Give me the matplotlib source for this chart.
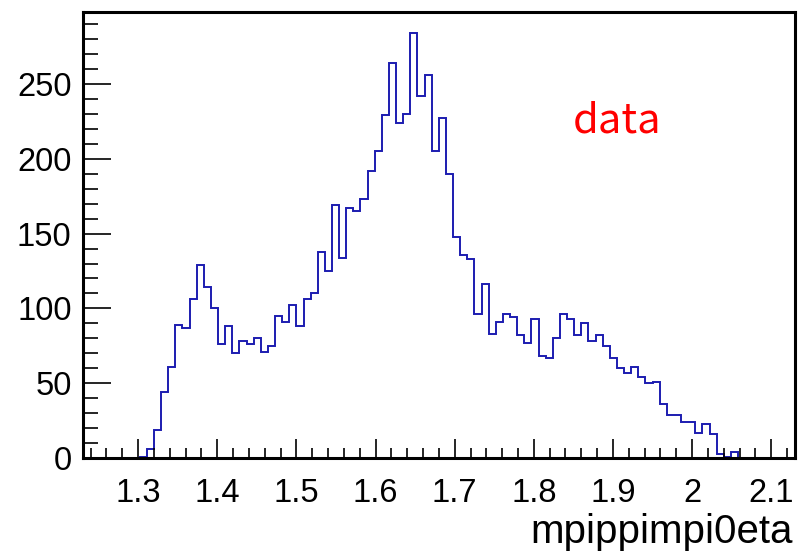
import numpy as np
import matplotlib
matplotlib.use("Agg")
import matplotlib.pyplot as plt
from matplotlib.ticker import MultipleLocator, FixedLocator

# Histogram of the pi+ pi- pi0 eta invariant mass: 100 bins on [1.23, 2.13]
x_min, x_max, n_bins = 1.23, 2.13, 100
counts = [
    0, 0, 0, 0, 0, 0, 0, 0, 1, 6,
    19, 44, 61, 89, 87, 106, 129, 114, 100, 76,
    88, 70, 78, 76, 80, 71, 75, 95, 91, 102,
    88, 106, 110, 138, 125, 169, 134, 167, 165, 173,
    192, 205, 229, 264, 224, 230, 284, 242, 256, 205,
    227, 190, 148, 136, 133, 96, 116, 83, 91, 96,
    94, 82, 77, 93, 68, 67, 80, 96, 93, 82,
    90, 78, 82, 75, 67, 60, 57, 61, 54, 50,
    51, 36, 29, 29, 24, 24, 17, 23, 16, 3,
    1, 4, 0, 0, 0, 0, 0, 0, 0, 0,
]
x_ticks = [1.3, 1.4, 1.5, 1.6, 1.7, 1.8, 1.9, 2.0, 2.1]
x_tick_labels = ["1.3", "1.4", "1.5", "1.6", "1.7", "1.8", "1.9", "2", "2.1"]
y_ticks = [0, 50, 100, 150, 200, 250]
x_title = "mpippimpi0eta"
legend_text = "data"

edges = np.linspace(x_min, x_max, n_bins + 1)

fig = plt.figure(figsize=(7.99, 5.60), dpi=100)
ax = fig.add_axes([0.1035, 0.182, 0.8915, 0.797])

ax.stairs(counts, edges, color="#1c1cb0", linewidth=1.4)

ax.set_xlim(x_min, x_max)
ax.set_ylim(0, 1.05 * max(counts))

ax.xaxis.set_major_locator(FixedLocator(x_ticks))
ax.set_xticklabels(x_tick_labels)
ax.xaxis.set_minor_locator(MultipleLocator(0.02))
ax.yaxis.set_major_locator(FixedLocator(y_ticks))
ax.yaxis.set_minor_locator(MultipleLocator(10))

label_font = "Liberation Sans"
ax.tick_params(axis="both", which="both", direction="in",
               top=False, right=False, colors="black")
ax.tick_params(axis="y", which="major", length=20, width=1.2, pad=8)
ax.tick_params(axis="y", which="minor", length=11, width=1.2)
ax.tick_params(axis="x", which="major", length=14, width=1.2, pad=14)
ax.tick_params(axis="x", which="minor", length=7, width=1.2)
for lbl in ax.get_xticklabels() + ax.get_yticklabels():
    lbl.set_fontfamily(label_font)
    lbl.set_fontsize(23.5)

for spine in ax.spines.values():
    spine.set_linewidth(2.2)
    spine.set_color("black")

fig.text(0.9925, 0.030, x_title, ha="right", va="baseline",
         fontsize=29, family=label_font)

ax.text(0.688, 0.730, legend_text, transform=ax.transAxes,
        color="red", fontsize=30, family=["Noto Sans CJK SC", "DejaVu Sans"],
        ha="left", va="baseline")

fig.savefig("out.png", dpi=100)
